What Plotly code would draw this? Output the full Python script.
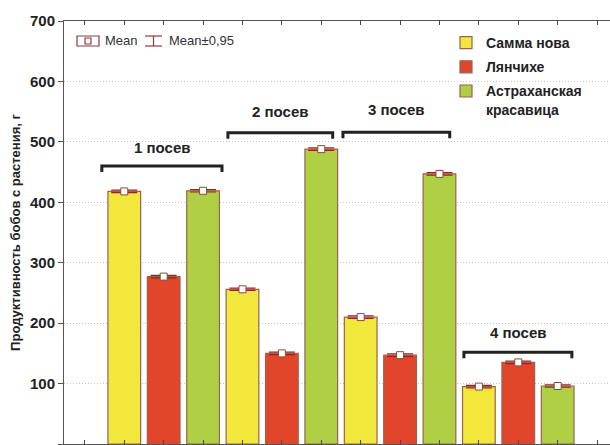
import plotly.graph_objects as go

# ---- data ----
varieties = ["Самма нова", "Лянчихе", "Астраханская<br>красавица"]
colors = ["#F1E83B", "#E2462A", "#AFCF45"]
# positions of bars on the category axis (group 1..4)
positions = [[1, 4, 7, 10], [2, 5, 8, 11], [3, 6, 9, 12]]
values = [[418, 256, 210, 95], [277, 150, 147, 135], [419, 488, 447, 96]]
ci95 = [[2, 2, 2, 2], [2, 2, 2, 2], [2, 2, 2, 2]]

groups = ["1 посев", "2 посев", "3 посев", "4 посев"]
bracket_x0 = [0.43, 3.63, 6.55, 9.62]
bracket_x1 = [3.48, 6.29, 9.26, 12.36]
bracket_y = [460, 515, 516, 152]
label_y = [490, 551, 554, 184]
tick_drop = 10

yticks = [0, 100, 200, 300, 400, 500, 600, 700]

W, H = 610, 445
ML, MT, MB = 64, 21, 1
PW, PH = W - ML, H - MT - MB

fig = go.Figure()

edge = "#9A6250"
for name, col, xs, ys, es in zip(varieties, colors, positions, values, ci95):
    fig.add_trace(go.Bar(
        x=xs, y=ys, name=name, width=0.83,
        marker=dict(color=col, line=dict(color=edge, width=1.2)),
        error_y=dict(type="data", array=es, color="#9B2222", thickness=1.2, width=13),
        legendgroup=name,
    ))

allx = [x for xs in positions for x in xs]
ally = [y for ys in values for y in ys]
fig.add_trace(go.Scatter(
    x=allx, y=ally, mode="markers", showlegend=False,
    marker=dict(symbol="square", size=7, color="white", line=dict(color="#8B4A3A", width=1)),
))

# brackets
for g, x0, x1, by, ly in zip(groups, bracket_x0, bracket_x1, bracket_y, label_y):
    fig.add_trace(go.Scatter(
        x=[x0, x0, x1, x1], y=[by - tick_drop, by, by, by - tick_drop],
        mode="lines", line=dict(color="#222222", width=3), showlegend=False,
    ))
    fig.add_annotation(x=(x0 + x1) / 2, y=ly, text=g, showarrow=False,
                       font=dict(family="Liberation Sans", size=15, color="#222222", weight="bold"))

# manual "Mean / Mean±0,95" legend (pixel -> paper)
def px(x):
    return (x - ML) / PW

def py(y):
    return (H - MB - y) / PH

lc = "#8B3A3A"
fig.add_shape(type="rect", xref="paper", yref="paper", x0=px(77), x1=px(99), y0=py(46), y1=py(36),
              line=dict(color=lc, width=1.2), fillcolor="white")
fig.add_shape(type="rect", xref="paper", yref="paper", x0=px(85), x1=px(91), y0=py(44), y1=py(38),
              line=dict(color=lc, width=1.2), fillcolor="white")
fig.add_annotation(xref="paper", yref="paper", x=px(103), y=py(41), xanchor="left", yanchor="middle",
                   text="Mean", showarrow=False, font=dict(family="Liberation Sans", size=13, color="#333333"))
for (a, b, c, d) in [(145, 36, 162, 36), (145, 46, 162, 46), (153.5, 36, 153.5, 46)]:
    fig.add_shape(type="line", xref="paper", yref="paper", x0=px(a), y0=py(b), x1=px(c), y1=py(d),
                  line=dict(color=lc, width=1.2))
fig.add_annotation(xref="paper", yref="paper", x=px(167), y=py(41), xanchor="left", yanchor="middle",
                   text="Mean±0,95", showarrow=False, font=dict(family="Liberation Sans", size=13, color="#333333"))

fig.update_layout(
    width=W, height=H,
    margin=dict(l=ML, r=0, t=MT, b=MB, autoexpand=False),
    plot_bgcolor="white", paper_bgcolor="white",
    barmode="overlay",
    showlegend=True,
    legend=dict(x=px(446), y=py(27), xanchor="left", yanchor="top",
                font=dict(family="Liberation Sans", size=14, color="#222222", weight="bold"),
                bgcolor="rgba(255,255,255,0)", valign="top", tracegroupgap=3),
    font=dict(family="Liberation Sans"),
)

fig.update_xaxes(range=[-0.53, -0.53 + PW / 39.4], tickvals=list(range(0, 14)), showticklabels=False,
                 ticks="inside", ticklen=4, tickcolor="#444444", showline=True, linecolor="#555555",
                 linewidth=1, mirror="ticks", showgrid=False, zeroline=False)
fig.update_yaxes(range=[0, 700], tickvals=yticks, ticks="outside", ticklen=5, tickcolor="#555555",
                 showline=True, linecolor="#555555", linewidth=1, showgrid=True, gridcolor="#C4C4C4",
                 griddash="1px,2px", gridwidth=1, zeroline=False,
                 tickfont=dict(family="Liberation Sans", size=15, color="#222222", weight="bold"),
                 title=dict(text="Продуктивность бобов с растения, г", standoff=6,
                            font=dict(family="Liberation Sans", size=13, color="#222222", weight="bold")))

fig.write_html("out.html", config={"displayModeBar": False},
               post_script="document.body.style.margin='0';document.body.style.overflow='hidden';")
